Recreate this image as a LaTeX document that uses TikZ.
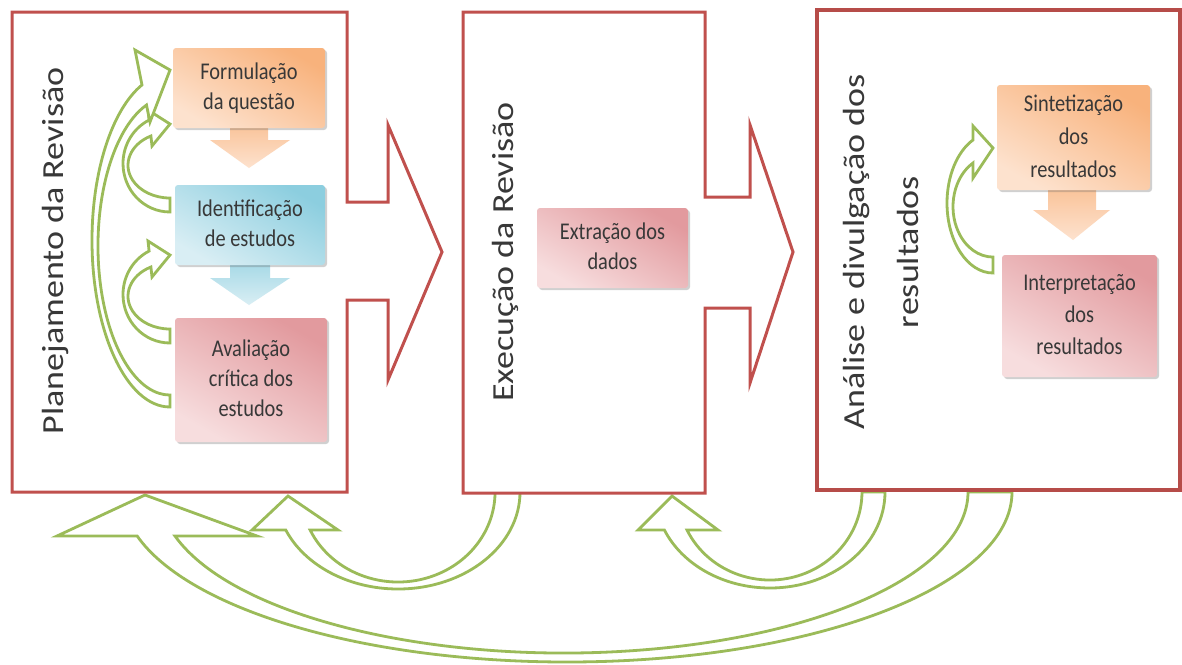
\documentclass[tikz,border=0pt]{standalone}
\usepackage{fontspec}
\setmainfont{Carlito}
\usepackage{graphicx}
\usetikzlibrary{shadows}

\definecolor{frame}{HTML}{C0504D}
\definecolor{leaf}{HTML}{9BBB59}
\definecolor{ink}{HTML}{383838}
\definecolor{peachA}{HTML}{F8B27C}
\definecolor{peachB}{HTML}{FDE2CE}
\definecolor{skyA}{HTML}{8CCEDF}
\definecolor{skyB}{HTML}{D9EEF4}
\definecolor{roseA}{HTML}{E29A9E}
\definecolor{roseB}{HTML}{F7DDDE}

% condensed text helpers
\newcommand\boxtext[1]{\scalebox{0.85}[1]{\begin{tabular}{@{}c@{}}#1\end{tabular}}}
\newcommand\sidetext[1]{\scalebox{1}[0.85]{\begin{tabular}{@{}c@{}}#1\end{tabular}}}

\tikzset{
  stage/.style={draw=frame, line width=3pt, fill=white, line join=miter},
  leafarrow/.style={draw=leaf, line width=2.8pt, fill=white, line join=miter},
  card/.style={rounded corners=3pt, inner sep=0pt, text=ink,
    font=\fontsize{24}{30}\selectfont,
    drop shadow={shadow xshift=2pt, shadow yshift=-2pt, opacity=0.3, fill=black!60}},
  peachcard/.style={card, top color=peachA, bottom color=peachB, shading angle=-30},
  skycard/.style={card, top color=skyA, bottom color=skyB, shading angle=-30},
  rosecard/.style={card, top color=roseA, bottom color=roseB, shading angle=-30},
  peachdown/.style={top color=peachA!80, bottom color=peachB},
  skydown/.style={top color=skyA!80, bottom color=skyB},
  title/.style={rotate=90, text=ink, inner sep=0pt, font=\fontsize{36}{63}\selectfont},
}

\begin{document}
\begin{tikzpicture}[x=1pt, y=-1pt]
\fill[white] (0,0) rectangle (1182,664);
\useasboundingbox (0,0) rectangle (1182,664);

% feedback arrows under the stages
\draw[leafarrow] (520,492) arc[start angle=0, end angle=156.93, x radius=122, y radius=97]
  -- (252,530) -- (288,496) -- (338,530) -- (310.1,530)
  arc[start angle=155.03, end angle=0, x radius=97, y radius=90] -- cycle;
\draw[leafarrow] (885,492) arc[start angle=0, end angle=156.68, x radius=115, y radius=96]
  -- (638,530) -- (672,496) -- (718,530) -- (687.0,530)
  arc[start angle=154.42, end angle=0, x radius=92, y radius=88] -- cycle;
\draw[leafarrow] (1012,492) arc[start angle=0, end angle=165.0, x radius=445, y radius=170]
  -- (57,536) -- (145,495) -- (257,536) -- (175.0,536)
  arc[start angle=164.14, end angle=0, x radius=404.2, y radius=161] -- cycle;

% the three stages
\draw[stage] (12,12) -- (347,12) -- (347,202) -- (388,202) -- (388,125) -- (442,252)
  -- (388,380) -- (388,300) -- (347,300) -- (347,492) -- (12,492) -- cycle;
\draw[stage] (463,12) -- (705,12) -- (705,197) -- (750,197) -- (750,125) -- (793,252)
  -- (750,383) -- (750,308) -- (705,308) -- (705,493) -- (463,493) -- cycle;
\draw[stage, line width=4pt, draw=frame!95!black] (817,10) rectangle (1180,490);

\node[title] (planejamento) at (53,251) {\sidetext{Planejamento da Revisão}};
\node[title] (execucao) at (503,252) {\sidetext{Execução da Revisão}};
\node[title] (analise) at (881,252) {\sidetext{Análise e divulgação dos\\resultados}};

% block arrows between the steps
\shade[peachdown] (230,122) -- (268,122) -- (268,140) -- (290,140) -- (249,168)
  -- (210,140) -- (230,140) -- cycle;
\shade[skydown] (230,260) -- (270,260) -- (270,278) -- (290,278) -- (249,305)
  -- (210,278) -- (230,278) -- cycle;
\shade[peachdown] (1048,185) -- (1096,185) -- (1096,210) -- (1110,210) -- (1073,240)
  -- (1033,210) -- (1048,210) -- cycle;

% loops inside the planning stage
\draw[leafarrow] (170,212) arc[start angle=90, end angle=243.6, x radius=47, y radius=48.5]
  -- (148,110) -- (170,124) -- (152,146) -- (150.9,136)
  arc[start angle=242.95, end angle=90, x radius=42, y radius=32.8] -- cycle;
\draw[leafarrow] (170,343) arc[start angle=90, end angle=243.6, x radius=47, y radius=48.5]
  -- (148,241) -- (170,255) -- (152,277) -- (150.9,267)
  arc[start angle=242.95, end angle=90, x radius=42, y radius=32.8] -- cycle;
\draw[leafarrow] (170,407) arc[start angle=90, end angle=248.96, x radius=78, y radius=166.6]
  -- (135,50) -- (170,70) -- (150,122) -- (146.5,105)
  arc[start angle=250.95, end angle=90, x radius=72, y radius=149.1] -- cycle;
% loop inside the analysis stage
\draw[leafarrow] (993,273) arc[start angle=90, end angle=244.23, x radius=46, y radius=70]
  -- (973,126) -- (993,148) -- (973,178) -- (973,163)
  arc[start angle=240, end angle=90, x radius=40, y radius=50.4] -- cycle;

% steps
\node[peachcard, minimum width=152pt, minimum height=80pt] (formulacao) at (249,88)
  {\boxtext{Formulação\\da questão}};
\node[skycard, minimum width=150pt, minimum height=80pt] (identificacao) at (250,225)
  {\boxtext{Identificação\\de estudos}};
\node[rosecard, minimum width=152pt, minimum height=124pt] (avaliacao) at (251,380)
  {\boxtext{Avaliação\\crítica dos\\estudos}};
\node[rosecard, minimum width=151pt, minimum height=80pt] (extracao) at (612.5,248)
  {\boxtext{Extração dos\\dados}};
\node[peachcard, minimum width=153pt, minimum height=105pt, font=\fontsize{24}{33}\selectfont]
  (sintetizacao) at (1073.5,137.5) {\boxtext{Sintetização\\dos\\resultados}};
\node[rosecard, minimum width=155pt, minimum height=122pt, font=\fontsize{24}{32}\selectfont]
  (interpretacao) at (1079.5,316) {\boxtext{Interpretação\\dos\\resultados}};
\end{tikzpicture}
\end{document}
